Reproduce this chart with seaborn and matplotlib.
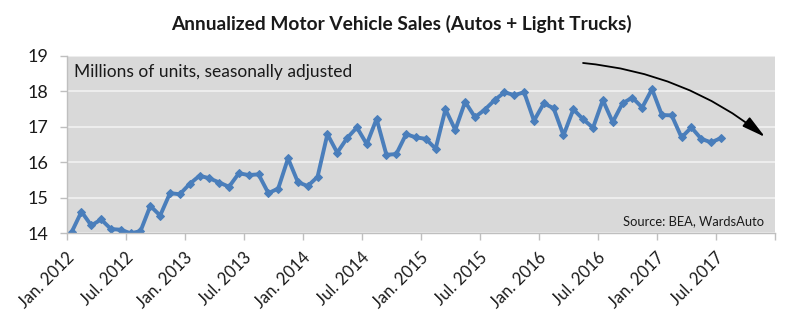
import numpy as np
import pandas as pd
import matplotlib
matplotlib.use("Agg")
import matplotlib.pyplot as plt
import seaborn as sns

# Monthly data, Jan 2012 .. Jul 2017 (millions of units, SAAR)
sales_2012 = [14.03, 14.61, 14.22, 14.39, 14.12, 14.10, 14.00, 14.06, 14.77, 14.50, 15.13, 15.10]
sales_2013 = [15.39, 15.62, 15.55, 15.43, 15.31, 15.69, 15.64, 15.66, 15.13, 15.26, 16.11, 15.44]
sales_2014 = [15.33, 15.59, 16.79, 16.27, 16.68, 16.98, 16.51, 17.22, 16.21, 16.23, 16.79, 16.70]
sales_2015 = [16.66, 16.38, 17.49, 16.91, 17.70, 17.27, 17.48, 17.75, 17.97, 17.89, 17.97, 17.17]
sales_2016 = [17.66, 17.52, 16.76, 17.49, 17.21, 16.97, 17.75, 17.13, 17.66, 17.82, 17.54, 18.06]
sales_2017 = [17.33, 17.32, 16.70, 16.98, 16.66, 16.56, 16.68]

tick_labels = ["Jan. 2012", "Jul. 2012", "Jan. 2013", "Jul. 2013", "Jan. 2014", "Jul. 2014",
               "Jan. 2015", "Jul. 2015", "Jan. 2016", "Jul. 2016", "Jan. 2017", "Jul. 2017"]
y_ticks = [14, 15, 16, 17, 18, 19]

title = "Annualized Motor Vehicle Sales (Autos + Light Trucks)"
subtitle = "Millions of units, seasonally adjusted"
source = "Source: BEA, WardsAuto"

values = sales_2012 + sales_2013 + sales_2014 + sales_2015 + sales_2016 + sales_2017
n_categories = 72  # axis spans Jan 2012 .. Dec 2017
df = pd.DataFrame({"month": np.arange(len(values)), "sales": values})

sns.set_theme(style="white")
plt.rcParams["font.family"] = ["Lato", "DejaVu Sans"]

fig = plt.figure(figsize=(8.02, 3.17), dpi=100)
ax = fig.add_axes([66.7 / 802, 1 - 233.3 / 317, (775 - 66.7) / 802, (233.3 - 55.7) / 317])
ax.set_facecolor("#d9d9d9")

blue = "#4a7ebb"
sns.lineplot(data=df, x="month", y="sales", ax=ax, color=blue, linewidth=2.8,
             marker="D", markersize=4, markeredgecolor=blue, markerfacecolor=blue)

ax.set_xlim(-0.5, n_categories - 0.5)
ax.set_ylim(y_ticks[0], y_ticks[-1])
ax.set_yticks(y_ticks)
ax.set_yticklabels([str(t) for t in y_ticks])
ax.yaxis.grid(True, color="#f2f2f2", linewidth=1.2)
ax.set_axisbelow(True)

# major ticks at category boundaries (every 6 months), labels at category centres
ax.set_xticks(np.arange(-0.5, n_categories, 6))
ax.set_xticklabels([])
ax.set_xticks(np.arange(0, n_categories - 1, 6)[:len(tick_labels)], minor=True)
ax.set_xticklabels(tick_labels, minor=True, rotation=45, ha="right", va="center",
                   rotation_mode="anchor", fontsize=12, color="#1a1a1a")
ax.tick_params(axis="x", which="minor", length=0, pad=16)
ax.tick_params(axis="x", which="major", length=5, width=1, color="#bfbfbf", direction="out", bottom=True)
ax.tick_params(axis="y", length=5, width=1, color="#bfbfbf", direction="out", left=True, pad=8,
               labelsize=13, labelcolor="#1a1a1a")
ax.set_xlabel("")
ax.set_ylabel("")

for s in ["top", "right"]:
    ax.spines[s].set_visible(False)
for s in ["left", "bottom"]:
    ax.spines[s].set_color("#bfbfbf")
    ax.spines[s].set_linewidth(1)

ax.text(0.011, 0.91, subtitle, transform=ax.transAxes, fontsize=12.5, ha="left", va="center",
        color="#1a1a1a")
ax.text(0.984, 0.07, source, transform=ax.transAxes, fontsize=9.3, ha="right", va="center",
        color="#1a1a1a")

ax.annotate("", xy=(0.986, 0.542), xytext=(0.729, 0.959), xycoords="axes fraction",
            textcoords="axes fraction",
            arrowprops=dict(arrowstyle="-|>,head_length=0.9,head_width=0.22", color="black",
                            lw=1.3, mutation_scale=16,
                            connectionstyle="arc3,rad=-0.15", shrinkA=0, shrinkB=0))

fig.text(0.5, 1 - 24 / 317, title, ha="center", va="center", fontsize=13.8, fontweight="bold",
         color="#1a1a1a")

fig.savefig("out.png", dpi=100)
